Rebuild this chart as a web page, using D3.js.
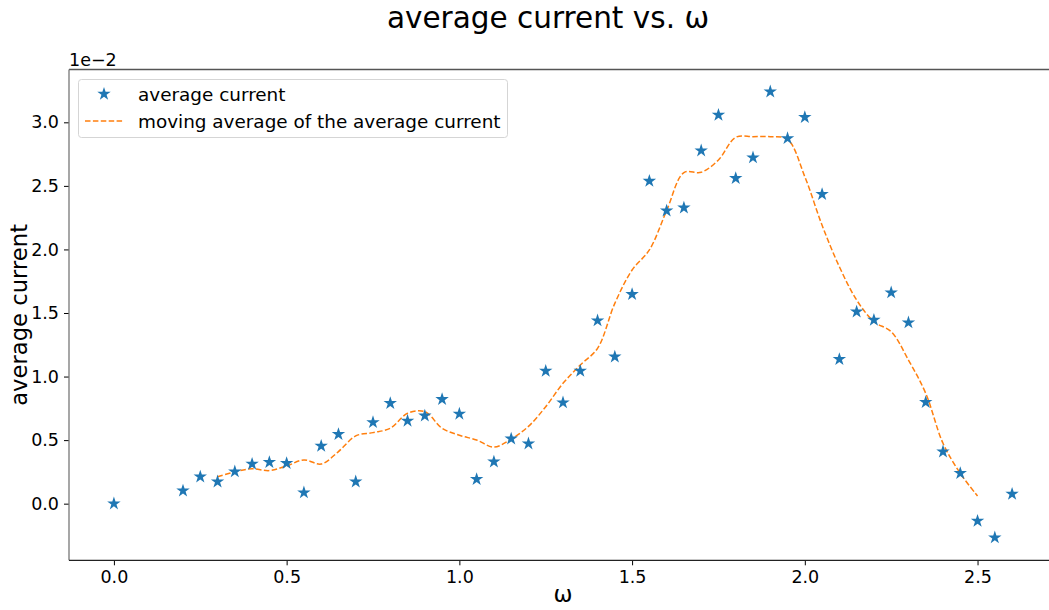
<!DOCTYPE html>
<html>
<head>
<meta charset="utf-8">
<script src="https://cdn.jsdelivr.net/npm/d3@7"></script>
<style>
  body { margin: 0; background: #fff; }
  text { font-family: "DejaVu Sans", sans-serif; fill: #000; }
</style>
</head>
<body>
<script>
// omega values for the scatter
var omega = [0.0, 0.2, 0.25, 0.3, 0.35, 0.4, 0.45, 0.5, 0.55, 0.6, 0.65, 0.7, 0.75, 0.8, 0.85,
  0.9, 0.95, 1.0, 1.05, 1.1, 1.15, 1.2, 1.25, 1.3, 1.35, 1.4, 1.45, 1.5, 1.55, 1.6, 1.65,
  1.7, 1.75, 1.8, 1.85, 1.9, 1.95, 2.0, 2.05, 2.1, 2.15, 2.2, 2.25, 2.3, 2.35, 2.4, 2.45,
  2.5, 2.55, 2.6];
// average current (x1e-2)
var current = [0.0, 0.102, 0.212, 0.173, 0.252, 0.312, 0.326, 0.318, 0.087, 0.454, 0.546, 0.173,
  0.64, 0.79, 0.651, 0.692, 0.821, 0.706, 0.192, 0.33, 0.511, 0.472, 1.044, 0.795, 1.044,
  1.44, 1.156, 1.647, 2.538, 2.304, 2.328, 2.777, 3.058, 2.56, 2.722, 3.241, 2.874, 3.04,
  2.434, 1.136, 1.51, 1.445, 1.66, 1.424, 0.798, 0.409, 0.239, -0.136, -0.267, 0.076];

// moving average curve
var maOmega = [0.3, 0.35, 0.4, 0.45, 0.5, 0.55, 0.6, 0.65, 0.7, 0.75, 0.8, 0.85, 0.9, 0.95,
  1.0, 1.05, 1.1, 1.15, 1.2, 1.25, 1.3, 1.35, 1.4, 1.45, 1.5, 1.55, 1.6, 1.65, 1.7, 1.75,
  1.8, 1.85, 1.9, 1.95, 2.0, 2.05, 2.1, 2.15, 2.2, 2.25, 2.3, 2.35, 2.4, 2.45, 2.5];
var maCurrent = [0.212, 0.25, 0.275, 0.26, 0.297, 0.344, 0.312, 0.41, 0.533, 0.559, 0.593,
  0.711, 0.724, 0.593, 0.538, 0.501, 0.445, 0.508, 0.608, 0.763, 0.947, 1.091, 1.222,
  1.576, 1.838, 1.996, 2.305, 2.604, 2.607, 2.704, 2.882, 2.887, 2.887, 2.866, 2.572,
  2.19, 1.864, 1.602, 1.432, 1.353, 1.13, 0.868, 0.475, 0.239, 0.06];

var xTicks = [0.0, 0.5, 1.0, 1.5, 2.0, 2.5];
var yTicks = [0.0, 0.5, 1.0, 1.5, 2.0, 2.5, 3.0];

var W = 1049, H = 610;
var plotL = 69, plotR = 1057, plotT = 69.5, plotB = 560.3;

var xScale = d3.scaleLinear().domain([-0.13, 2.73]).range([plotL, plotR]);
var yScale = d3.scaleLinear().domain([-0.4455, 3.4155]).range([plotB, plotT]);

var svg = d3.select('body').append('svg')
    .attr('width', W)
    .attr('height', H);

// title
svg.append('text')
    .attr('x', 548)
    .attr('y', 28)
    .attr('text-anchor', 'middle')
    .style('font-size', '29.5px')
    .text('average current vs. ω');

// axes
var xAxis = d3.axisBottom(xScale)
    .tickValues(xTicks)
    .tickFormat(d3.format('.1f'))
    .tickSize(5)
    .tickPadding(5);

var yAxis = d3.axisLeft(yScale)
    .tickValues(yTicks)
    .tickFormat(d3.format('.1f'))
    .tickSize(5)
    .tickPadding(5);

var gx = svg.append('g')
    .attr('transform', 'translate(0,' + plotB + ')')
    .call(xAxis);
var gy = svg.append('g')
    .attr('transform', 'translate(' + plotL + ',0)')
    .call(yAxis);

[gx, gy].forEach(function (g) {
    g.select('.domain').remove();
    g.selectAll('.tick line').attr('stroke', '#000').attr('stroke-width', 1);
    g.selectAll('.tick text')
        .style('font-size', '17.5px')
        .style('font-family', '"DejaVu Sans", sans-serif')
        .attr('fill', '#000');
});

// spines
svg.append('line').attr('x1', plotL).attr('x2', plotR).attr('y1', plotT).attr('y2', plotT)
    .attr('stroke', '#555').attr('stroke-width', 1.3);
svg.append('line').attr('x1', plotL).attr('x2', plotL).attr('y1', plotT).attr('y2', plotB)
    .attr('stroke', '#777').attr('stroke-width', 1.3);
svg.append('line').attr('x1', plotL).attr('x2', plotR).attr('y1', plotB).attr('y2', plotB)
    .attr('stroke', '#222').attr('stroke-width', 1.3);

// offset text
svg.append('text')
    .attr('x', plotL)
    .attr('y', 66)
    .style('font-size', '17.5px')
    .text('1e\u22122');

// axis labels
svg.append('text')
    .attr('x', (plotL + plotR) / 2)
    .attr('y', 602)
    .attr('text-anchor', 'middle')
    .style('font-size', '22.7px')
    .text('ω');

svg.append('text')
    .attr('transform', 'translate(27,' + ((plotT + plotB) / 2) + ') rotate(-90)')
    .attr('text-anchor', 'middle')
    .style('font-size', '22.7px')
    .text('average current');

// moving average line
var line = d3.line()
    .x(function (d) { return xScale(d[0]); })
    .y(function (d) { return yScale(d[1]); })
    .curve(d3.curveCatmullRom.alpha(0.5));

svg.append('path')
    .datum(d3.zip(maOmega, maCurrent))
    .attr('d', line)
    .attr('fill', 'none')
    .attr('stroke', '#ff7f0e')
    .attr('stroke-width', 1.5)
    .attr('stroke-dasharray', '5.5,2.4');

// stars
var star = d3.symbol().type(d3.symbolStar).size(56);

svg.selectAll('path.pt')
    .data(d3.zip(omega, current))
    .enter()
    .append('path')
    .attr('class', 'pt')
    .attr('d', star)
    .attr('transform', function (d) {
        return 'translate(' + xScale(d[0]) + ',' + yScale(d[1]) + ')';
    })
    .attr('fill', '#1f77b4');

// legend
var lg = svg.append('g');
lg.append('rect')
    .attr('x', 78.5).attr('y', 79.5)
    .attr('width', 429).attr('height', 58)
    .attr('rx', 3)
    .attr('fill', '#fff')
    .attr('fill-opacity', 0.8)
    .attr('stroke', '#d5d5d5');
lg.append('path')
    .attr('d', star)
    .attr('transform', 'translate(104,94)')
    .attr('fill', '#1f77b4');
lg.append('line')
    .attr('x1', 85).attr('x2', 123).attr('y1', 121).attr('y2', 121)
    .attr('stroke', '#ff7f0e')
    .attr('stroke-width', 1.5)
    .attr('stroke-dasharray', '5.5,2.4');
lg.append('text').attr('x', 138).attr('y', 100.5).style('font-size', '18.4px').text('average current');
lg.append('text').attr('x', 138).attr('y', 127.5).style('font-size', '18.4px').text('moving average of the average current');
</script>
</body>
</html>
